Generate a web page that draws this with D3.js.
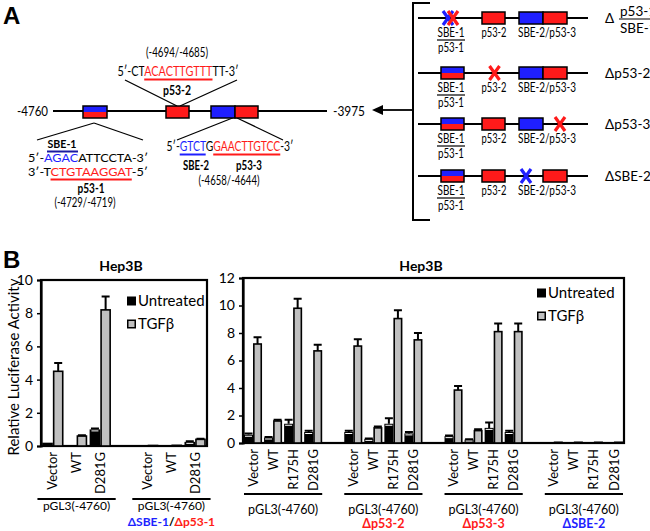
<!DOCTYPE html>
<html><head><meta charset="utf-8">
<script src="https://cdn.jsdelivr.net/npm/d3@7"></script>
<style>body{margin:0;background:#fff} svg{display:block} text{font-family:Lato,"Open Sans",sans-serif;fill:#000}</style>
</head><body><svg id="c" width="650" height="531"><defs id="defs"></defs></svg>
<script>
const RED="#ff1a1a", BLUE="#1f1fff", GRAY="#c0c0c0";

// ---------- DATA ----------
const seriesNames = ["Untreated","TGFβ"];
const leftCategories = ["Vector","WT","D281G"];
const leftGroupLabels = ["pGL3(-4760)","pGL3(-4760)"];
const leftUntreated    = [0.2, 0.05, 1.0, 0.02, 0.03, 0.25];
const leftUntreatedErr = [0.02,0.01, 0.05,0.0, 0.0, 0.03];
const leftTGF          = [4.5, 0.6, 8.2, 0.03, 0.04, 0.4];
const leftTGFErr       = [0.5, 0.05,0.8, 0.0, 0.0, 0.04];
const leftTicks = [0,2,4,6,8,10];

const rightCategories = ["Vector","WT","R175H","D281G"];
const rightGroupLabels = ["pGL3(-4760)","pGL3(-4760)","pGL3(-4760)","pGL3(-4760)"];
const rightGroupSub = ["","Δp53-2","Δp53-3","ΔSBE-2"];
const rightUntreated    = [0.6,0.4,1.4,0.8, 0.8,0.3,1.4,0.7, 0.5,0.25,1.1,0.8, 0.03,0.03,0.03,0.03];
const rightUntreatedErr = [0.1,0.03,0.3,0.1, 0.1,0.03,0.4,0.1, 0.05,0.03,0.4,0.1, 0,0,0,0];
const rightTGF          = [7.2,1.6,9.8,6.7, 7.05,1.1,9.05,7.5, 3.85,0.9,8.1,8.1, 0.05,0.05,0.05,0.05];
const rightTGFErr       = [0.5,0.1,0.7,0.45, 0.5,0.1,0.6,0.5, 0.3,0.1,0.6,0.6, 0,0,0,0];
const rightTicks = [0,2,4,6,8,10,12];

const svg = d3.select("#c");
const defs = d3.select("#defs");
let gradId = 0;

// ---------- helpers ----------
// multi-coloured text as ONE text element, coloured with a hard-stop gradient
function colorText(g, cx, y, parts, opt={}) {
  const size = opt.size||13, str = parts.map(p=>p.t).join("");
  const t = g.append("text").attr("y", y).attr("font-size", size)
    .attr("font-weight", opt.bold?"bold":"normal").text(str);
  let w = opt.width || t.node().getComputedTextLength();
  const x0 = cx - w/2;
  t.attr("x", x0);
  if (opt.width) t.attr("textLength", w).attr("lengthAdjust", "spacingAndGlyphs");
  const node = t.node(), nch = str.length;
  const pos = k => {
    try {
      if (k >= nch) return node.getEndPositionOfChar(nch-1).x;
      const v = node.getStartPositionOfChar(k).x;
      if (isFinite(v)) return v;
    } catch(e) {}
    return x0 + w*k/nch;
  };
  const id = "cg" + (gradId++);
  const grad = defs.append("linearGradient").attr("id", id).attr("gradientUnits","userSpaceOnUse")
    .attr("x1", x0).attr("x2", x0 + w).attr("y1", 0).attr("y2", 0);
  let i = 0;
  parts.forEach(p => {
    const a = pos(i), b = pos(i + p.t.length);
    const fa = Math.max(0, Math.min(1, (a - x0)/w)), fb = Math.max(0, Math.min(1, (b - x0)/w));
    grad.append("stop").attr("offset", fa).attr("stop-color", p.c||"#000");
    grad.append("stop").attr("offset", fb).attr("stop-color", p.c||"#000");
    if (p.u) g.append("line").attr("x1", a).attr("x2", b).attr("y1", y + (opt.uo||4)).attr("y2", y + (opt.uo||4))
      .attr("stroke", p.u).attr("stroke-width", 2);
    i += p.t.length;
  });
  t.style("fill", `url(#${id})`);
}
function txt(g, x, y, t, o={}) {
  const e = g.append("text").attr("x", x).attr("y", y).attr("font-size", o.size||12)
    .attr("font-weight", o.bold?"bold":"normal").attr("text-anchor", o.anchor||"middle")
    .attr("dy", o.dy||"0.35em").style("fill", o.c||"#000").text(t);
  if (o.len) e.attr("textLength", o.len).attr("lengthAdjust", "spacingAndGlyphs");
  return e;
}
function box(g, x, y, w, h, kind) {
  if (kind === "split") {
    g.append("rect").attr("x", x).attr("y", y).attr("width", w).attr("height", h/2).attr("fill", BLUE);
    g.append("rect").attr("x", x).attr("y", y+h/2).attr("width", w).attr("height", h/2).attr("fill", RED);
    g.append("rect").attr("x", x).attr("y", y).attr("width", w).attr("height", h).attr("fill", "none").attr("stroke", "#000").attr("stroke-width", 1.5);
  } else {
    g.append("rect").attr("x", x).attr("y", y).attr("width", w).attr("height", h)
      .attr("fill", kind==="blue"?BLUE:RED).attr("stroke", "#000").attr("stroke-width", 1.5);
  }
}
function cross(g, cx, cy, color) {
  g.append("path").attr("d", `M${cx-5},${cy-7}L${cx+5},${cy+7}M${cx+5},${cy-7}L${cx-5},${cy+7}`)
    .attr("stroke", color).attr("stroke-width", 3.2).attr("fill", "none");
}

// ---------- PANEL A ----------
const A = svg.append("g");
A.append("text").attr("x", 3).attr("y", 24).attr("font-size", 24).attr("font-weight", "bold")
  .style("font-family", "Arial, Liberation Sans, sans-serif").text("A");

A.append("line").attr("x1", 53).attr("x2", 327).attr("y1", 111).attr("y2", 111).attr("stroke", "#000").attr("stroke-width", 2.2);
txt(A, 48, 111, "-4760", {anchor:"end", size:13.5, len:31});
txt(A, 333, 111, "-3975", {anchor:"start", size:13.5, len:32});
const connectors = [[125,80,177,106],[237,80,180,106],[94,123,37,140],[94,123,143,140],[235,117,177,140],[235,117,283,140]];
connectors.forEach(c => A.append("line").attr("x1",c[0]).attr("y1",c[1]).attr("x2",c[2]).attr("y2",c[3]).attr("stroke","#000").attr("stroke-width",1.3));
box(A, 83, 106, 24, 12, "split");
box(A, 166, 106, 23, 12, "red");
box(A, 211, 106, 24, 12, "blue");
box(A, 235, 106, 23, 12, "red");

txt(A, 177, 53, "(-4694/-4685)", {size:12.5, len:62});
colorText(A, 178, 76, [{t:"5′-CT"},{t:"ACACTTGTTT",c:RED,u:RED},{t:"TT-3′"}], {size:13.5, uo:3.5, width:121});
txt(A, 177, 90, "p53-2", {size:13, bold:true, len:28});

txt(A, 62, 143.5, "SBE-1", {size:11.5, bold:true, len:29});
A.append("line").attr("x1",47).attr("x2",78).attr("y1",151.5).attr("y2",151.5).attr("stroke","#1a1aa0").attr("stroke-width",2);
colorText(A, 88, 162, [{t:"5′-"},{t:"AGAC",c:BLUE},{t:"ATTCCTA-3′"}], {size:11.5, width:120});
colorText(A, 88, 176, [{t:"3′-T"},{t:"CTGTAAGGAT",c:RED,u:RED},{t:"-5′"}], {size:11.5, uo:3.5, width:120});
txt(A, 91, 189, "p53-1", {size:12.5, bold:true, len:27});
txt(A, 85, 203, "(-4729/-4719)", {size:12.5, len:61});

colorText(A, 230, 151, [{t:"5′-"},{t:"GTCT",c:BLUE,u:BLUE},{t:"G"},{t:"GAACTTGTCC",c:RED,u:RED},{t:"-3′"}], {size:13.5, uo:3.5, width:127});
txt(A, 196, 166, "SBE-2", {size:12.5, bold:true, len:26});
txt(A, 249, 166, "p53-3", {size:12.5, bold:true, len:26});
txt(A, 229, 181, "(-4658/-4644)", {size:12.5, len:61});

// constructs (right side)
const constructRows = [
  {y:18,  b1:"xx", b2:"red", b3:"blue", b4:"red"},
  {y:73,  b1:"split", b2:"xred", b3:"blue", b4:"red"},
  {y:124, b1:"split", b2:"red", b3:"blue", b4:"xred"},
  {y:176, b1:"split", b2:"red", b3:"xblue", b4:"red"}
];
const constructLabels = ["", "Δp53-2", "Δp53-3", "ΔSBE-2"];
const C = svg.append("g");
C.append("path").attr("d","M430,3H413V220H430").attr("fill","none").attr("stroke","#000").attr("stroke-width",2);
C.append("line").attr("x1",413).attr("x2",381).attr("y1",110).attr("y2",110).attr("stroke","#000").attr("stroke-width",1.8);
C.append("path").attr("d","M372,110L383,105L383,115Z").attr("fill","#000");
const bx = {b1:[441,23], b2:[482,23], b3:[519,24], b4:[543,24]};
constructRows.forEach((r,i) => {
  C.append("line").attr("x1",418).attr("x2",588).attr("y1",r.y).attr("y2",r.y).attr("stroke","#000").attr("stroke-width",2.2);
  ["b1","b2","b3","b4"].forEach(k => {
    const [x,w] = bx[k], v = r[k];
    if (v === "xx") { cross(C, x+7, r.y, BLUE); cross(C, x+12, r.y, RED); }
    else if (v === "xred") cross(C, x+w/2 + (k==="b4"?5:1), r.y, RED);
    else if (v === "xblue") cross(C, x+w/2 - 5, r.y, BLUE);
    else box(C, x, r.y-6, w, 12, v);
  });
  txt(C, 451, r.y+15, "SBE-1", {size:12.5, len:27});
  C.append("line").attr("x1",437).attr("x2",465).attr("y1",r.y+22).attr("y2",r.y+22).attr("stroke","#000").attr("stroke-width",1.2);
  txt(C, 451, r.y+30, "p53-1", {size:12.5, len:26});
  txt(C, 494, r.y+15, "p53-2", {size:12.5, len:25});
  txt(C, 547, r.y+15, "SBE-2/p53-3", {size:12.5, len:58});
  if (constructLabels[i]) txt(C, 605, r.y, constructLabels[i], {anchor:"start", size:13.5});
});
txt(C, 605, 18, "Δ", {anchor:"start", size:13.5});
txt(C, 620, 11, "p53-1", {anchor:"start", size:13.5});
C.append("line").attr("x1",619).attr("x2",652).attr("y1",19).attr("y2",19).attr("stroke","#000").attr("stroke-width",1.2);
txt(C, 620, 28, "SBE-1", {anchor:"start", size:13.5});

// ---------- PANEL B ----------
const B = svg.append("g");
B.append("text").attr("x", 3).attr("y", 268).attr("font-size", 24).attr("font-weight", "bold")
  .style("font-family", "Arial, Liberation Sans, sans-serif").text("B");
B.append("text").attr("transform","translate(14,367) rotate(-90)").attr("text-anchor","middle")
  .attr("dy","0.35em").attr("font-size",15).text("Relative Luciferase Activity");

function barChart(cfg) {
  const g = B.append("g");
  const slots = [];
  cfg.groups.forEach((gl,gi) => {
    cfg.cats.forEach((c,ci) => slots.push({id:`${gi}-${ci}`, cat:c, gi, idx: gi*cfg.cats.length+ci}));
    if (gi < cfg.groups.length-1) slots.push({id:`gap${gi}`, gap:true});
  });
  const x = d3.scaleBand().domain(slots.map(s=>s.id)).range([cfg.x0, cfg.x1]).paddingInner(cfg.pad).paddingOuter(cfg.pad/2);
  const y = d3.scaleLinear().domain([0, cfg.ymax]).range([cfg.yb, cfg.yt]);
  const sub = d3.scaleBand().domain(seriesNames).range([0, x.bandwidth()]);
  g.append("rect").attr("x",cfg.x0).attr("y",cfg.yt).attr("width",cfg.x1-cfg.x0).attr("height",cfg.yb-cfg.yt)
    .attr("fill","none").attr("stroke","#000").attr("stroke-width",2.2);
  const ax = g.append("g").attr("transform",`translate(${cfg.x0},0)`)
    .call(d3.axisLeft(y).tickValues(cfg.ticks).tickSize(4).tickPadding(4));
  ax.selectAll("text").attr("font-size",14).style("font-family","Lato,sans-serif");
  ax.select(".domain").attr("stroke-width",2.2);
  ax.selectAll(".tick line").attr("stroke-width",1.5);
  const data = slots.filter(s=>!s.gap);
  const series = [
    {name:"Untreated", vals:cfg.unt, err:cfg.untErr, fill:"#000", stroke:"#000", ew:0},
    {name:"TGFβ", vals:cfg.tgf, err:cfg.tgfErr, fill:GRAY, stroke:"#000", ew:1.6}
  ];
  series.forEach(s => {
    const bw = sub.bandwidth();
    g.selectAll(null).data(data).enter().append("rect")
      .attr("x", d => x(d.id) + sub(s.name) + s.ew/2)
      .attr("width", bw - s.ew)
      .attr("y", d => y(s.vals[d.idx]))
      .attr("height", d => Math.max(0, y(0) - y(s.vals[d.idx])))
      .attr("fill", s.fill).attr("stroke", s.ew? s.stroke : "none").attr("stroke-width", s.ew);
    const ed = data.filter(d => s.err[d.idx] > 0.02);
    const cx = d => x(d.id) + sub(s.name) + bw/2;
    g.selectAll(null).data(ed).enter().append("path")
      .attr("d", d => { const yt = y(s.vals[d.idx] + s.err[d.idx]), yv = y(s.vals[d.idx]);
        return `M${cx(d)},${yv}V${yt}M${cx(d)-4},${yt}H${cx(d)+4}`; })
      .attr("stroke","#000").attr("stroke-width",2).attr("fill","none");
    if (s.name==="Untreated") {
      g.selectAll(null).data(ed).enter().append("line")
        .attr("x1", d=>cx(d)-3.5).attr("x2", d=>cx(d)+3.5)
        .attr("y1", d=>y(s.vals[d.idx])+1.5).attr("y2", d=>y(s.vals[d.idx])+1.5)
        .attr("stroke","#fff").attr("stroke-width",1);
    }
  });
  g.selectAll(null).data(data).enter().append("text")
    .attr("transform", d => `translate(${x(d.id)+x.bandwidth()/2},${cfg.yb+6}) rotate(-90)`)
    .attr("text-anchor","end").attr("dy","0.35em").attr("font-size",13).text(d=>d.cat);
  cfg.groups.forEach((gl, gi) => {
    const first = x(`${gi}-0`), last = x(`${gi}-${cfg.cats.length-1}`) + x.bandwidth();
    const l = first - x.step()*cfg.ulExt, r = last + x.step()*cfg.ulExt;
    g.append("line").attr("x1",l).attr("x2",r).attr("y1",cfg.ulY).attr("y2",cfg.ulY).attr("stroke","#000").attr("stroke-width",2);
    txt(g, (l+r)/2, cfg.lblY, gl, {size:cfg.lblSize});
    const subl = cfg.sub[gi];
    if (subl) {
      if (Array.isArray(subl)) colorText(g, (l+r)/2, cfg.subY+4.3, subl, {size:12, bold:true});
      else txt(g, (l+r)/2, cfg.subY, subl.t, {size:12.5, bold:true, c:subl.c});
    }
  });
  const lg = g.append("g").attr("transform",`translate(${cfg.lx},${cfg.ly})`);
  lg.append("rect").attr("x",0).attr("y",-4.5).attr("width",9).attr("height",9).attr("fill","#000");
  lg.append("text").attr("x",11).attr("y",0).attr("dy","0.35em").attr("font-size",15).text(seriesNames[0]);
  lg.append("rect").attr("x",0.75).attr("y",19.25).attr("width",7.5).attr("height",7.5).attr("fill",GRAY).attr("stroke","#000").attr("stroke-width",1.5);
  lg.append("text").attr("x",11).attr("y",23).attr("dy","0.35em").attr("font-size",15).text(seriesNames[1]);
  txt(g, cfg.titleX, 266, "Hep3B", {size:14, bold:true});
}

barChart({x0:41, x1:207, yt:280, yb:446, ymax:10, ticks:leftTicks, pad:0.1,
  groups:leftGroupLabels, cats:leftCategories, unt:leftUntreated, untErr:leftUntreatedErr, tgf:leftTGF, tgfErr:leftTGFErr,
  ulY:499, ulExt:0.2, lblY:506, lblSize:12, subY:521.2,
  sub:[null, [{t:"ΔSBE-1",c:BLUE},{t:"/"},{t:"Δp53-1",c:RED}]],
  lx:127, ly:301, titleX:121});

barChart({x0:243, x1:624, yt:278, yb:443, ymax:12, ticks:rightTicks, pad:0.1,
  groups:rightGroupLabels, cats:rightCategories, unt:rightUntreated, untErr:rightUntreatedErr, tgf:rightTGF, tgfErr:rightTGFErr,
  ulY:494, ulExt:0.0, lblY:510, lblSize:12.5, subY:524,
  sub:[null, {t:rightGroupSub[1],c:RED}, {t:rightGroupSub[2],c:RED}, {t:rightGroupSub[3],c:BLUE}],
  lx:537, ly:293, titleX:421});
</script></body></html>
